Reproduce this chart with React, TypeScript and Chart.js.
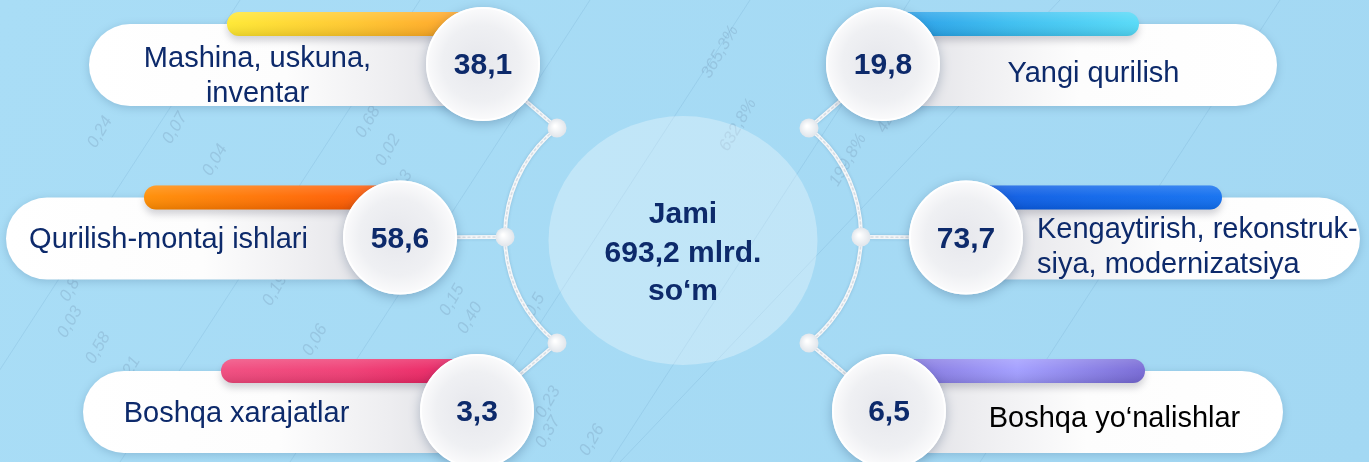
import React, { useEffect, useRef } from 'react';
import { Chart, registerables } from 'chart.js';

Chart.register(...registerables);

// ---------------- data ----------------
const leftCategories: string[][] = [
  ['Mashina, uskuna,', 'inventar'],
  ['Qurilish-montaj ishlari'],
  ['Boshqa xarajatlar'],
];
const leftValues: number[] = [38.1, 58.6, 3.3];

const rightCategories: string[][] = [
  ['Yangi qurilish'],
  ['Kengaytirish, rekonstruk-', 'siya, modernizatsiya'],
  ['Boshqa yo‘nalishlar'],
];
const rightValues: number[] = [19.8, 73.7, 6.5];

const totalTitle = 'Jami';
const totalValue = 693.2;
const totalUnit = 'mlrd.';
const totalCurrency = 'so‘m';

// faint decorative background figures
const bgFigures: string[] = [
  '0,24', '0,07', '0,04', '0,68', '0,02', '0,13', '0,8', '0,19', '0,06',
  '0,15', '0,40', '0,58', '0,03', '0,21', '0,5', '0,23', '0,37', '0,26',
  '365,3%', '632,8%', '199,8%', '4291', '0,8', '0,5',
];

// ---------------- layout & style ----------------
const W = 1369;
const H = 462;
const FONT = '"Liberation Sans", Arial, Helvetica, sans-serif';
const NAVY = '#0d2a6b';
const BG = '#a7dbf5';

const X_MIN = -3.3646;
const X_MAX = 3.3794;
const Y_MIN = -0.369;
const Y_MAX = 2.294;

const BULGE = [-3, 80, 3]; // outward shift of the value circles per row (px)
const CIRCLE_R = 57;
const PILL_LEN = 394;
const PILL_TOP = -40;
const PILL_H = 82;
const BAR_LEN = 256;
const BAR_TOP = -52;
const BAR_H = 24;

const TOTAL_DY = 3;
const TOTAL_RX = 134.5;
const TOTAL_RY = 124.5;
const NODE_OFFSETS = [
  { dx: 126, dy: -112.5 },
  { dx: 178, dy: -3.5 },
  { dx: 126, dy: 102.5 },
];

// per side, per row: label placement
const LABEL_LAYOUT = {
  left: [
    { align: 'center', dx: 0, dy: 3 },
    { align: 'center', dx: -6, dy: 10 },
    { align: 'center', dx: -15, dy: 11 },
  ],
  right: [
    { align: 'center', dx: -15, dy: 18 },
    { align: 'left', dx: 14, dy: 0 },
    { align: 'center', dx: 0, dy: 16 },
  ],
};
const LABEL_COLORS = { left: [NAVY, NAVY, NAVY], right: [NAVY, NAVY, '#000000'] };

// bar gradient stops: from the outer end towards the value circle
const BAR_GRADIENTS = {
  left: [
    ['#ffe82e', '#ffc52a', '#ff9a1f'],
    ['#ff8c00', '#ff6e00', '#ff4f00'],
    ['#f0487c', '#ef3a72', '#e8185a'],
  ],
  right: [
    ['#52d9f7', '#38bdf0', '#1d95e5'],
    ['#0f6ef0', '#0b64ea', '#0955df'],
    ['#7466d4', '#a09cff', '#7a6bd6'],
  ],
};

const DECOR_POS = [
  [100, 132], [175, 128], [215, 160], [368, 122], [388, 150], [400, 186],
  [70, 290], [275, 290], [315, 340], [452, 300], [470, 318], [98, 348],
  [70, 322], [128, 372], [535, 305], [548, 402], [548, 432], [592, 440],
  [720, 52], [738, 125], [848, 160], [890, 115], [210, 430], [320, 440],
];

const fmt = (v: number) => v.toFixed(1).replace('.', ',');

function rr(ctx: CanvasRenderingContext2D, x: number, y: number, w: number, h: number, r: number) {
  const rad = Math.min(r, h / 2, w / 2);
  ctx.beginPath();
  ctx.moveTo(x + rad, y);
  ctx.lineTo(x + w - rad, y);
  ctx.arc(x + w - rad, y + rad, rad, -Math.PI / 2, 0);
  ctx.lineTo(x + w, y + h - rad);
  ctx.arc(x + w - rad, y + h - rad, rad, 0, Math.PI / 2);
  ctx.lineTo(x + rad, y + h);
  ctx.arc(x + rad, y + h - rad, rad, Math.PI / 2, Math.PI);
  ctx.lineTo(x, y + rad);
  ctx.arc(x + rad, y + rad, rad, Math.PI, Math.PI * 1.5);
  ctx.closePath();
}

function circleFrom3(a: any, b: any, c: any) {
  const d = 2 * (a.x * (b.y - c.y) + b.x * (c.y - a.y) + c.x * (a.y - b.y));
  const a2 = a.x * a.x + a.y * a.y;
  const b2 = b.x * b.x + b.y * b.y;
  const c2 = c.x * c.x + c.y * c.y;
  const ux = (a2 * (b.y - c.y) + b2 * (c.y - a.y) + c2 * (a.y - b.y)) / d;
  const uy = (a2 * (c.x - b.x) + b2 * (a.x - c.x) + c2 * (b.x - a.x)) / d;
  return { x: ux, y: uy, r: Math.hypot(a.x - ux, a.y - uy) };
}

function drawBackground(chart: any) {
  const ctx: CanvasRenderingContext2D = chart.ctx;
  ctx.save();
  const g = ctx.createLinearGradient(0, 0, W, H);
  g.addColorStop(0, '#a9ddf6');
  g.addColorStop(1, '#a3d8f3');
  ctx.fillStyle = g;
  ctx.fillRect(0, 0, W, H);

  // faint diagonal guide lines
  ctx.strokeStyle = 'rgba(90,140,185,0.16)';
  ctx.lineWidth = 1;
  const starts = [-60, 120, 290, 450, 610, 980];
  starts.forEach((s) => {
    ctx.beginPath();
    ctx.moveTo(s, H);
    ctx.lineTo(s + 300, 0);
    ctx.stroke();
  });
  ctx.beginPath();
  ctx.moveTo(620, H);
  ctx.lineTo(1060, 0);
  ctx.stroke();

  // faint figures
  ctx.fillStyle = 'rgba(95,125,155,0.22)';
  ctx.font = `italic 17px ${FONT}`;
  ctx.textAlign = 'center';
  ctx.textBaseline = 'middle';
  bgFigures.forEach((t, i) => {
    const p = DECOR_POS[i];
    if (!p) return;
    ctx.save();
    ctx.translate(p[0], p[1]);
    ctx.rotate(-Math.PI / 3);
    ctx.fillText(t, 0, 0);
    ctx.restore();
  });
  ctx.restore();
}

function drawText(ctx: CanvasRenderingContext2D, text: string, x: number, y: number, font: string, color: string, align: CanvasTextAlign) {
  ctx.font = font;
  ctx.fillStyle = color;
  ctx.textAlign = align;
  ctx.textBaseline = 'alphabetic';
  ctx.fillText(text, x, y);
}

const infographic = {
  id: 'infographic',
  beforeDraw(chart: any) {
    drawBackground(chart);
  },
  afterDatasetsDraw(chart: any) {
    const ctx: CanvasRenderingContext2D = chart.ctx;
    const xs = chart.scales.x;
    const ys = chart.scales.y;
    const tcx = xs.getPixelForValue(0);
    const tcy = ys.getPixelForValue(1) + TOTAL_DY;

    // ---- central total circle ----
    ctx.save();
    ctx.fillStyle = 'rgba(255,255,255,0.30)';
    ctx.beginPath();
    ctx.ellipse(tcx, tcy, TOTAL_RX, TOTAL_RY, 0, 0, Math.PI * 2);
    ctx.fill();
    ctx.restore();
    const totalLines = [totalTitle, `${fmt(totalValue)} ${totalUnit}`, totalCurrency];
    const totalBase = [-17.5, 21.5, 59.5];
    totalLines.forEach((t, i) => drawText(ctx, t, tcx, tcy + totalBase[i], `bold 30px ${FONT}`, NAVY, 'center'));

    const sides = [
      { key: 'left', s: -1, cats: leftCategories, vals: leftValues, ds: 0 },
      { key: 'right', s: 1, cats: rightCategories, vals: rightValues, ds: 1 },
    ];

    // resolve circle centres from the scales
    const centres: any = {};
    sides.forEach((sd) => {
      const meta = chart.getDatasetMeta(sd.ds);
      centres[sd.key] = meta.data.map((el: any, i: number) => ({
        x: el.x + sd.s * BULGE[i],
        y: el.y,
      }));
    });

    // ---- connectors ----
    sides.forEach((sd) => {
      const nodes = NODE_OFFSETS.map((o) => ({ x: tcx + sd.s * o.dx, y: tcy + o.dy }));
      const c = circleFrom3(nodes[0], nodes[1], nodes[2]);
      const a1 = Math.atan2(nodes[0].y - c.y, nodes[0].x - c.x);
      const a2 = Math.atan2(nodes[1].y - c.y, nodes[1].x - c.x);
      const a3 = Math.atan2(nodes[2].y - c.y, nodes[2].x - c.x);
      const norm = (a: number) => ((a % (Math.PI * 2)) + Math.PI * 2) % (Math.PI * 2);
      const cw = norm(a2 - a1) < norm(a3 - a1);
      ctx.save();
      ctx.lineCap = 'round';
      const strokeAll = (style: string, width: number, dash: number[]) => {
        ctx.strokeStyle = style;
        ctx.lineWidth = width;
        ctx.setLineDash(dash);
        ctx.beginPath();
        ctx.arc(c.x, c.y, c.r, a1, a3, !cw);
        ctx.stroke();
        nodes.forEach((n, i) => {
          const ce = centres[sd.key][i];
          ctx.beginPath();
          ctx.moveTo(n.x, n.y);
          ctx.lineTo(ce.x, ce.y);
          ctx.stroke();
        });
      };
      ctx.shadowColor = 'rgba(40,90,140,0.25)';
      ctx.shadowBlur = 3;
      strokeAll('#f4f6f8', 4, []);
      ctx.shadowBlur = 0;
      ctx.shadowColor = 'transparent';
      strokeAll('rgba(190,200,212,0.55)', 1.5, [2, 3]);
      ctx.setLineDash([]);
      nodes.forEach((n) => {
        const g = ctx.createRadialGradient(n.x - 2, n.y - 2, 1, n.x, n.y, 10);
        g.addColorStop(0, '#ffffff');
        g.addColorStop(1, '#dfe4ea');
        ctx.fillStyle = g;
        ctx.beginPath();
        ctx.arc(n.x, n.y, 9.5, 0, Math.PI * 2);
        ctx.fill();
      });
      ctx.restore();
    });

    // ---- cards ----
    sides.forEach((sd) => {
      sd.vals.forEach((v, i) => {
        const { x: cx, y: cy } = centres[sd.key][i];
        const outerPill = cx + sd.s * PILL_LEN;

        // pill
        ctx.save();
        ctx.shadowColor = 'rgba(30,70,110,0.22)';
        ctx.shadowBlur = 10;
        ctx.shadowOffsetY = 2;
        const pg = ctx.createLinearGradient(outerPill, 0, cx, 0);
        pg.addColorStop(0, '#ffffff');
        pg.addColorStop(0.5, '#fdfdfd');
        pg.addColorStop(0.78, '#ededf0');
        pg.addColorStop(1, '#dcdde2');
        ctx.fillStyle = pg;
        const px = Math.min(outerPill, cx - sd.s * 20);
        rr(ctx, px, cy + PILL_TOP, PILL_LEN + 20, PILL_H, PILL_H / 2);
        ctx.fill();
        ctx.restore();

        // bar
        const outerBar = cx + sd.s * BAR_LEN;
        const bx = Math.min(outerBar, cx);
        const by = cy + BAR_TOP;
        ctx.save();
        ctx.shadowColor = 'rgba(60,60,80,0.22)';
        ctx.shadowBlur = 7;
        ctx.shadowOffsetY = 5;
        const stops = (BAR_GRADIENTS as any)[sd.key][i];
        const bg = ctx.createLinearGradient(outerBar, 0, cx, 0);
        stops.forEach((c: string, k: number) => bg.addColorStop(k / (stops.length - 1), c));
        ctx.fillStyle = bg;
        rr(ctx, bx, by, BAR_LEN, BAR_H, BAR_H / 2);
        ctx.fill();
        ctx.restore();
        ctx.save();
        const hg = ctx.createLinearGradient(0, by, 0, by + BAR_H);
        hg.addColorStop(0, 'rgba(255,255,255,0.18)');
        hg.addColorStop(0.45, 'rgba(255,255,255,0.05)');
        hg.addColorStop(1, 'rgba(0,0,0,0.10)');
        ctx.fillStyle = hg;
        rr(ctx, bx, by, BAR_LEN, BAR_H, BAR_H / 2);
        ctx.fill();
        ctx.restore();

        // label
        const lay = (LABEL_LAYOUT as any)[sd.key][i];
        const regA = outerPill;
        const regB = cx + sd.s * CIRCLE_R;
        const regLeft = Math.min(regA, regB);
        const regRight = Math.max(regA, regB);
        const lines = sd.cats[i];
        const font = `29px ${FONT}`;
        const color = (LABEL_COLORS as any)[sd.key][i];
        const firstBase = lines.length > 1 ? cy + lay.dy : cy + lay.dy;
        lines.forEach((t, k) => {
          const y = firstBase + k * 35;
          if (lay.align === 'left') {
            drawText(ctx, t, regLeft + lay.dx, y, font, color, 'left');
          } else {
            drawText(ctx, t, (regLeft + regRight) / 2 + lay.dx, y, font, color, 'center');
          }
        });

        // value circle
        ctx.save();
        ctx.shadowColor = 'rgba(20,50,90,0.28)';
        ctx.shadowBlur = 12;
        ctx.shadowOffsetY = 3;
        const cg = ctx.createRadialGradient(cx - 6, cy - 2, 4, cx, cy, CIRCLE_R);
        cg.addColorStop(0, '#e7e8ed');
        cg.addColorStop(0.65, '#eff0f3');
        cg.addColorStop(1, '#fbfbfc');
        ctx.fillStyle = cg;
        ctx.beginPath();
        ctx.arc(cx, cy, CIRCLE_R, 0, Math.PI * 2);
        ctx.fill();
        ctx.restore();
        ctx.save();
        ctx.strokeStyle = 'rgba(255,255,255,0.9)';
        ctx.lineWidth = 2;
        ctx.beginPath();
        ctx.arc(cx, cy, CIRCLE_R - 1, 0, Math.PI * 2);
        ctx.stroke();
        ctx.restore();

        drawText(ctx, fmt(v), cx, cy + 10, `bold 30px ${FONT}`, NAVY, 'center');
      });
    });
  },
};

export default function App() {
  const ref = useRef<HTMLCanvasElement>(null);

  useEffect(() => {
    document.body.style.margin = '0';
    const canvas = ref.current;
    if (!canvas) return;
    const chart = new Chart(canvas, {
      type: 'scatter',
      data: {
        datasets: [
          {
            label: 'left',
            data: leftValues.map((v, i) => ({ x: -1, y: i, v })),
            pointRadius: 0,
            pointHoverRadius: 0,
          },
          {
            label: 'right',
            data: rightValues.map((v, i) => ({ x: 1, y: i, v })),
            pointRadius: 0,
            pointHoverRadius: 0,
          },
        ],
      } as any,
      options: {
        responsive: false,
        animation: false,
        events: [],
        layout: { padding: 0 },
        plugins: {
          legend: { display: false },
          tooltip: { enabled: false },
          title: { display: false },
        },
        scales: {
          x: { type: 'linear', display: false, min: X_MIN, max: X_MAX },
          y: { type: 'linear', display: false, min: Y_MIN, max: Y_MAX, reverse: true },
        },
      },
      plugins: [infographic],
    });
    return () => chart.destroy();
  }, []);

  return (
    <div style={{ width: W, height: H, position: 'relative' }}>
      <canvas ref={ref} width={W} height={H} style={{ display: 'block', width: W, height: H }} />
    </div>
  );
}
